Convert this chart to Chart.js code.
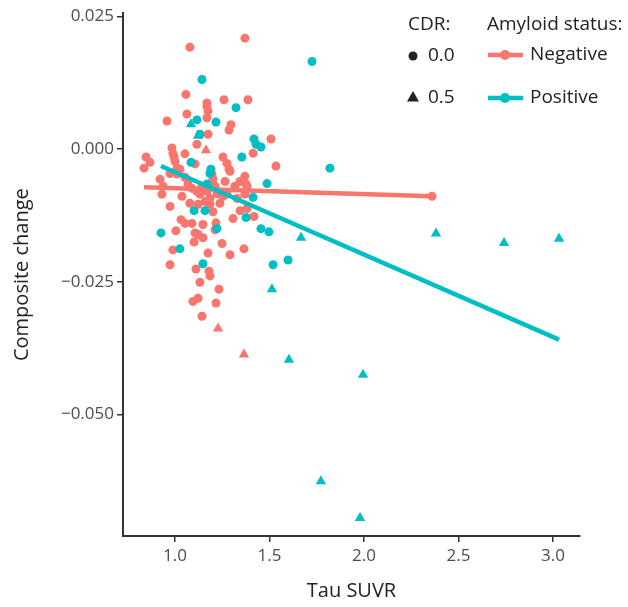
<!DOCTYPE html>
<html>
<head>
<meta charset="utf-8">
<script src="https://cdn.jsdelivr.net/npm/chart.js@4"></script>
<style>
  body { margin: 0; background: #fff; }
</style>
</head>
<body>
<canvas id="myChart" width="628" height="607"></canvas>
<script>
// amyloid negative, CDR 0.0
const negCdr0 = [
  [1.079, 0.0192], [1.370, 0.0209], [1.058, 0.0103], [1.169, 0.0087], [1.169, 0.0080],
  [1.175, 0.0072], [1.169, 0.0059], [1.259, 0.0093], [1.386, 0.0093], [1.063, 0.0066],
  [0.958, 0.0053], [1.296, 0.0046], [1.286, 0.0036], [1.175, 0.0028], [1.508, 0.0019],
  [1.116, 0.0009], [0.984, 0.0002], [0.989, -0.0008], [0.995, -0.0015], [1.053, -0.0009],
  [1.106, -0.0028], [0.847, -0.0015], [0.868, -0.0025], [0.836, -0.0036], [1.254, -0.0015],
  [1.413, -0.0008], [1.275, -0.0027], [1.286, -0.0038], [1.534, -0.0032], [0.974, -0.0046],
  [1.011, -0.0036], [1.026, -0.0038], [1.000, -0.0023], [1.196, -0.0047], [1.201, -0.0057],
  [1.291, -0.0042], [1.370, -0.0051], [0.937, -0.0070], [0.931, -0.0085], [0.974, -0.0108],
  [1.069, -0.0066], [1.090, -0.0074], [1.116, -0.0080], [1.132, -0.0085], [1.143, -0.0070],
  [1.169, -0.0080], [1.185, -0.0093], [1.222, -0.0084], [1.238, -0.0102], [1.079, -0.0102],
  [1.122, -0.0104], [1.159, -0.0099], [1.185, -0.0104], [1.317, -0.0070], [1.381, -0.0070],
  [1.370, -0.0085], [1.328, -0.0093], [1.275, -0.0085], [1.344, -0.0116], [1.381, -0.0112],
  [1.418, -0.0127], [1.307, -0.0131], [1.032, -0.0133], [1.053, -0.0140], [1.090, -0.0140],
  [1.148, -0.0142], [1.217, -0.0139], [1.005, -0.0154], [1.106, -0.0158], [1.122, -0.0161],
  [1.148, -0.0167], [1.101, -0.0175], [1.249, -0.0178], [0.989, -0.0190], [1.175, -0.0196],
  [1.291, -0.0199], [1.365, -0.0188], [0.974, -0.0218], [1.111, -0.0226], [1.180, -0.0230],
  [1.185, -0.0239], [1.132, -0.0251], [1.233, -0.0264], [1.095, -0.0287], [1.122, -0.0281],
  [1.217, -0.0290], [1.143, -0.0315], [1.376, -0.0066], [1.011, -0.0047], [1.053, -0.0053],
  [1.212, -0.0070], [1.265, -0.0061], [0.921, -0.0057], [1.201, -0.0118], [1.037, -0.0089],
  [1.344, -0.0061], [1.212, -0.0152], [1.254, -0.0089], [2.360, -0.0089]
];
// amyloid negative, CDR 0.5
const negCdr05 = [[1.164, -0.0002], [1.228, -0.0338], [1.365, -0.0387]];
// amyloid positive, CDR 0.0
const posCdr0 = [
  [1.143, 0.0131], [1.323, 0.0078], [1.116, 0.0055], [1.217, 0.0051], [1.132, 0.0028],
  [1.418, 0.0019], [1.429, 0.0009], [1.455, 0.0004], [1.725, 0.0165], [1.085, -0.0025],
  [1.190, -0.0038], [1.354, -0.0015], [1.820, -0.0036], [1.487, -0.0065], [1.169, -0.0066],
  [1.185, -0.0046], [1.413, -0.0091], [1.101, -0.0116], [1.159, -0.0116], [1.376, -0.0129],
  [1.222, -0.0150], [1.455, -0.0150], [1.497, -0.0156], [0.926, -0.0158], [1.026, -0.0188],
  [1.148, -0.0216], [1.519, -0.0218], [1.598, -0.0209]
];
// amyloid positive, CDR 0.5
const posCdr05 = [
  [1.085, 0.0047], [1.122, 0.0025], [1.667, -0.0167], [2.381, -0.0159], [2.741, -0.0177],
  [3.032, -0.0169], [1.513, -0.0264], [1.603, -0.0397], [1.995, -0.0425], [1.772, -0.0626],
  [1.979, -0.0695]
];
// linear fits
const negFitX = [0.836, 2.360];
const negFitY = [-0.0072, -0.0089];
const posFitX = [0.926, 3.032];
const posFitY = [-0.0032, -0.0359];

const xTicks = [1.0, 1.5, 2.0, 2.5, 3.0];
const yTicks = [0.025, 0.0, -0.025, -0.05];

const RED = '#F8766D';
const TEAL = '#00BFC4';

const toPts = arr => arr.map(p => ({ x: p[0], y: p[1] }));
const fitPts = (xs, ys) => xs.map((x, i) => ({ x: x, y: ys[i] }));

const legendPlugin = {
  id: 'sideLegend',
  afterDraw(chart) {
    const c = chart.ctx;
    c.save();
    c.fillStyle = '#222';
    c.textBaseline = 'middle';
    c.font = '19px "Open Sans"';
    c.fillText('CDR:', 408, 25);
    c.fillText('Amyloid status:', 487, 25);
    c.fillText('0.0', 428, 56);
    c.fillText('0.5', 428, 98);
    c.fillText('Negative', 530, 55);
    c.fillText('Positive', 530, 98);
    // shape keys
    c.beginPath();
    c.arc(413, 56, 4.5, 0, Math.PI * 2);
    c.fill();
    c.beginPath();
    c.moveTo(413, 91);
    c.lineTo(419, 101.5);
    c.lineTo(407, 101.5);
    c.closePath();
    c.fill();
    // colour keys
    [[55, RED], [98, TEAL]].forEach(([y, col]) => {
      c.strokeStyle = col;
      c.fillStyle = col;
      c.lineWidth = 4.5;
      c.beginPath();
      c.moveTo(488, y);
      c.lineTo(523, y);
      c.stroke();
      c.beginPath();
      c.arc(505, y, 5, 0, Math.PI * 2);
      c.fill();
    });
    c.restore();
  }
};

const ctx = document.getElementById('myChart');

new Chart(ctx, {
  type: 'scatter',
  data: {
    datasets: [
      { label: 'Positive fit', type: 'line', data: fitPts(posFitX, posFitY), borderColor: TEAL,
        borderWidth: 4.5, pointRadius: 0, fill: false, order: 0 },
      { label: 'Negative fit', type: 'line', data: fitPts(negFitX, negFitY), borderColor: RED,
        borderWidth: 4.5, pointRadius: 0, fill: false, order: 1 },
      { label: 'Positive CDR 0.5', data: toPts(posCdr05), backgroundColor: TEAL, pointStyle: 'triangle',
        pointRadius: 6, pointBorderWidth: 0, order: 2 },
      { label: 'Positive CDR 0.0', data: toPts(posCdr0), backgroundColor: TEAL, pointStyle: 'circle',
        pointRadius: 4.5, pointBorderWidth: 0, order: 3 },
      { label: 'Negative CDR 0.5', data: toPts(negCdr05), backgroundColor: RED, pointStyle: 'triangle',
        pointRadius: 6, pointBorderWidth: 0, order: 4 },
      { label: 'Negative CDR 0.0', data: toPts(negCdr0), backgroundColor: RED, pointStyle: 'circle',
        pointRadius: 4.5, pointBorderWidth: 0, order: 5 }
    ]
  },
  options: {
    responsive: false,
    animation: false,
    layout: { padding: { top: 12, right: 48, left: 0, bottom: 0 } },
    plugins: { legend: { display: false }, tooltip: { enabled: false } },
    scales: {
      x: {
        type: 'linear',
        min: 0.725,
        max: 3.143,
        afterBuildTicks: s => { s.ticks = xTicks.map(v => ({ value: v })); },
        afterFit: s => { s.height = 71; },
        grid: { display: true, drawOnChartArea: false, drawTicks: true, tickLength: 6, color: '#333', lineWidth: 1.5 },
        border: { display: true, color: '#333', width: 2 },
        ticks: { color: '#4d4d4d', font: { family: 'Open Sans', size: 17 }, padding: 4,
                 callback: v => v.toFixed(1) },
        title: { display: true, text: 'Tau SUVR', color: '#222', font: { family: 'Open Sans', size: 20 },
                 padding: { top: 6 } }
      },
      y: {
        type: 'linear',
        min: -0.0729,
        max: 0.0256,
        afterBuildTicks: s => { s.ticks = yTicks.map(v => ({ value: v })); },
        afterFit: s => { s.width = 123; },
        grid: { display: true, drawOnChartArea: false, drawTicks: true, tickLength: 6, color: '#333', lineWidth: 1.5 },
        border: { display: true, color: '#333', width: 2 },
        ticks: { color: '#4d4d4d', font: { family: 'Open Sans', size: 17 }, padding: 3,
                 callback: v => (v < 0 ? '\u2212' : '') + Math.abs(v).toFixed(3) },
        title: { display: true, text: 'Composite change', color: '#222', font: { family: 'Open Sans', size: 20 },
                 padding: { top: 10 } }
      }
    }
  },
  plugins: [legendPlugin]
});
</script>
</body>
</html>
